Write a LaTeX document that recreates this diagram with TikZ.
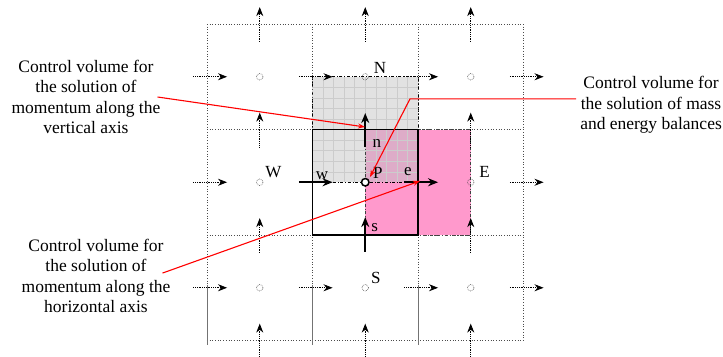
\documentclass[tikz,border=0pt]{standalone}
\usepackage{fontspec}
\setmainfont{Liberation Serif}
\usetikzlibrary{arrows.meta,positioning}

\definecolor{cvgray}{RGB}{226,226,226}
\definecolor{cvpink}{RGB}{255,153,204}
\definecolor{cvmauve}{RGB}{222,172,200}

\tikzset{
  flux/.style={densely dotted, line width=0.8pt, -{Stealth[length=9pt,width=7pt]}},
  fluxbold/.style={line width=1.6pt, -{Stealth[length=10pt,width=8pt]}},
  cell/.style={circle, draw=black!75, densely dotted, line width=0.6pt, inner sep=0pt, minimum size=6.5pt},
  lab/.style={inner sep=0pt, font=\fontsize{17}{20}\selectfont},
  cvtext/.style={align=center, inner sep=0pt, font=\fontsize{17.5}{20.5}\selectfont},
  leader/.style={red, line width=1.1pt, -{Stealth[length=7pt,width=5pt]}},
  mesh/.style={dotted, black!70, line width=0.7pt},
}

\begin{document}
\begin{tikzpicture}[x=105.5pt, y=-105.5pt]
\useasboundingbox (-1.962,-0.2275) rectangle (4.891,3.147);

% control volumes
\fill[cvgray] (1,0.5) rectangle (2,1.5);
\fill[cvpink] (1.5,1) rectangle (2.5,2);
\fill[cvmauve] (1.5,1) rectangle (2,1.5);
\foreach \i in {1,...,9} {
    \draw[black!20, line width=0.4pt] (1+\i/10,0.5) -- (1+\i/10,1.5);
    \draw[black!20, line width=0.4pt] (1,0.5+\i/10) -- (2,0.5+\i/10);
}
\draw[dash dot, line width=0.8pt] (1,0.5) rectangle (2,1.5);
\draw[dash dot, black!75, line width=0.8pt] (1.5,1) rectangle (2.5,2);

% mesh
\foreach \i in {0,...,3} {
    \draw[mesh] (\i,0) -- (\i,3);
    \draw[mesh] (0,\i) -- (3,\i);
}
\foreach \x in {0,1,2}
    \draw[black!55, line width=0.9pt] (\x,2.47) -- (\x,3.04);

\draw[line width=1.6pt] (1,1) rectangle (2,2);

% grid points
\foreach \c/\x/\y in {nw/0.5/0.5, N/1.5/0.5, ne/2.5/0.5, W/0.5/1.5, E/2.5/1.5, sw/0.5/2.5, S/1.5/2.5, se/2.5/2.5}
    \node[cell] (\c) at (\x,\y) {};
\node[circle, draw, line width=1.5pt, fill=white, inner sep=0pt, minimum size=7.5pt] (P) at (1.5,1.5) {};

% fluxes
\foreach \y in {0.5,2.5}
    \foreach \x in {0,1,2,3}
        \draw[flux] (\x-0.13,\y) -- (\x+0.19,\y);
\foreach \x in {0,3}
    \draw[flux] (\x-0.13,1.5) -- (\x+0.19,1.5);
\foreach \x in {0.5,2.5}
    \foreach \y in {0,1,2,3}
        \draw[flux] (\x,\y+0.17) -- (\x,\y-0.16);
\foreach \y in {0,3}
    \draw[flux] (1.5,\y+0.17) -- (1.5,\y-0.16);

\draw[fluxbold] (0.87,1.5) -- (1.19,1.5);
\draw[fluxbold] (1.87,1.5) -- (2.19,1.5);
\draw[fluxbold] (1.5,1.166) -- (1.5,0.844);
\draw[fluxbold] (1.5,2.16) -- (1.5,1.83);

% labels
\node[lab] (labN) at (1.64,0.42) {N};
\node[lab] (labW) at (0.63,1.40) {W};
\node[lab] (labE) at (2.63,1.40) {E};
\node[lab] (labS) at (1.60,2.41) {S};
\node[lab] (labP) at (1.62,1.41) {P};
\node[lab] (labn) at (1.61,1.13) {n};
\node[lab] (labs) at (1.59,1.93) {s};
\node[lab] (labw) at (1.09,1.44) {w};
\node[lab] (labe) at (1.905,1.40) {e};

% captions
\node[cvtext] (vm) at (-1.147,0.692) {Control volume for\\the solution of\\momentum along the\\vertical axis};
\node[cvtext] (hm) at (-1.052,2.389) {Control volume for\\the solution of\\momentum along the\\horizontal axis};
\node[cvtext] (mb) at (4.209,0.768) {Control volume for\\the solution of mass\\and energy balances};

\coordinate (vmtip) at (1.498,0.976);
\coordinate (hmtip) at (2.019,1.488);
\coordinate (mbbend) at (1.924,0.71);
\coordinate (mbtip) at (1.545,1.450);

\draw[leader] ([xshift=-3pt]vm.east) -- (vmtip);
\draw[leader] ([xshift=-8pt,yshift=3pt]hm.east) -- (hmtip);
\draw[leader] ([xshift=-4pt]mbbend -| mb.west) -- (mbbend) -- (mbtip);

\end{tikzpicture}
\end{document}
